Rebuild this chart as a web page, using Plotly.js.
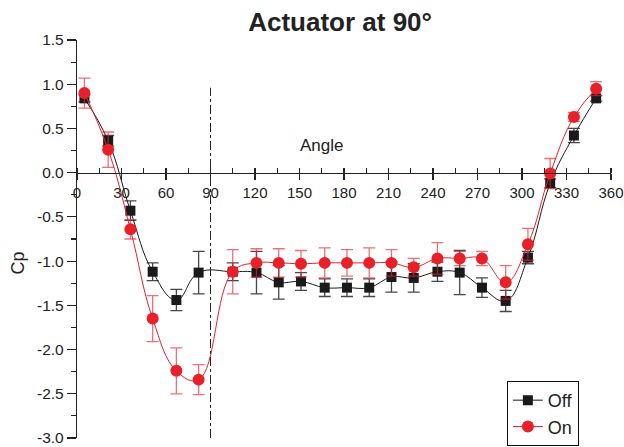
<!DOCTYPE html>
<html>
<head>
<meta charset="utf-8">
<script src="https://cdn.plot.ly/plotly-3.0.1.min.js"></script>
<style>html,body{margin:0;padding:0;background:#fff;}#chart{width:624px;height:447px;}</style>
</head>
<body>
<div id="chart"></div>
<script>
var angles = [5, 21, 36, 51, 67, 82, 105, 121, 136, 151, 167, 182, 197, 212, 227, 243, 258, 273, 289, 304, 319, 335, 350];
var offCp = [0.84, 0.36, -0.43, -1.12, -1.44, -1.13, -1.12, -1.13, -1.24, -1.23, -1.30, -1.30, -1.30, -1.18, -1.19, -1.12, -1.13, -1.30, -1.45, -0.96, -0.12, 0.42, 0.84];
var offErr = [0.04, 0.06, 0.11, 0.10, 0.12, 0.24, 0.10, 0.24, 0.19, 0.10, 0.10, 0.10, 0.10, 0.17, 0.16, 0.11, 0.25, 0.11, 0.12, 0.07, 0.05, 0.08, 0.03];
var onCp = [0.90, 0.26, -0.64, -1.65, -2.24, -2.34, -1.12, -1.02, -1.02, -1.03, -1.02, -1.02, -1.02, -1.02, -1.07, -0.97, -0.97, -0.97, -1.24, -0.81, -0.01, 0.63, 0.95];
var onErr = [0.17, 0.20, 0.11, 0.26, 0.26, 0.17, 0.25, 0.16, 0.16, 0.15, 0.17, 0.15, 0.17, 0.15, 0.10, 0.18, 0.08, 0.08, 0.19, 0.18, 0.17, 0.05, 0.08];
var xTicks = [0, 30, 60, 90, 120, 150, 180, 210, 240, 270, 300, 330, 360];
var yTicks = [1.5, 1.0, 0.5, 0.0, -0.5, -1.0, -1.5, -2.0, -2.5, -3.0];
var yTickText = ["1.5", "1.0", "0.5", "0.0", "-0.5", "-1.0", "-1.5", "-2.0", "-2.5", "-3.0"];

var FONT = "Liberation Sans, Arial, sans-serif";

var traces = [
  {
    x: angles, y: offCp, name: "Off", type: "scatter", mode: "lines+markers",
    line: {color: "#1a1a1a", width: 1, shape: "spline", smoothing: 1.2},
    marker: {symbol: "square", size: 10, color: "#1a1a1a"},
    error_y: {type: "data", array: offErr, visible: true, color: "rgba(40,40,40,0.85)", thickness: 1.3, width: 6}
  },
  {
    x: angles, y: onCp, name: "On", type: "scatter", mode: "lines+markers",
    line: {color: "#e8202a", width: 1, shape: "spline", smoothing: 1.2},
    marker: {symbol: "circle", size: 12, color: "#e8202a"},
    error_y: {type: "data", array: onErr, visible: true, color: "rgba(232,32,42,0.65)", thickness: 1.3, width: 6}
  }
];

var layout = {
  width: 624, height: 447,
  paper_bgcolor: "#fff", plot_bgcolor: "rgba(0,0,0,0)",
  margin: {l: 77, r: 13, t: 40, b: 9, pad: 0, autoexpand: false},
  font: {family: FONT, color: "#222"},
  title: {text: "<b>Actuator at 90°</b>", font: {family: FONT, size: 26, color: "#222"}, x: 0.545, xanchor: "center", xref: "container", y: 0.951, yanchor: "middle"},
  showlegend: true,
  legend: {x: 0.805, xanchor: "left", y: -0.02, yanchor: "bottom", bgcolor: "#fff", bordercolor: "#111", borderwidth: 1, font: {family: FONT, size: 18, color: "#222"}, tracegroupgap: 0},
  xaxis: {
    range: [0, 360], anchor: "free", position: 2/3, showline: true, linecolor: "#222", linewidth: 1.2,
    showgrid: false, zeroline: false, tickmode: "array", tickvals: xTicks, ticktext: xTicks.map(String),
    ticks: "outside", ticklen: 6, tickcolor: "#222", tickwidth: 1.2,
    tickfont: {family: FONT, size: 15, color: "#222"},
    minor: {dtick: 15, tick0: 0, ticks: "inside", ticklen: 5, tickcolor: "#222", tickwidth: 1.2, showgrid: false}
  },
  yaxis: {
    range: [-3.0, 1.5], showline: true, linecolor: "#222", linewidth: 1.2,
    showgrid: false, zeroline: false, tickmode: "array", tickvals: yTicks, ticktext: yTickText,
    ticks: "outside", ticklen: 9, tickcolor: "#222", tickwidth: 1.2,
    tickfont: {family: FONT, size: 15.5, color: "#222"},
    minor: {dtick: 0.25, tick0: 0, ticks: "outside", ticklen: 5, tickcolor: "#222", tickwidth: 1.2, showgrid: false}
  },
  shapes: [
    {type: "line", xref: "x", yref: "y", x0: 90, x1: 90, y0: -3.0, y1: 0.96, line: {color: "#222", width: 1, dash: "dashdot"}}
  ],
  annotations: [
    {text: "Angle", xref: "x", yref: "y", x: 165, y: 0.31, showarrow: false, font: {family: FONT, size: 17, color: "#222"}},
    {text: "Cp", xref: "paper", yref: "paper", x: -0.111, xanchor: "center", y: 0.44, yanchor: "middle", showarrow: false, textangle: -90, font: {family: FONT, size: 18, color: "#222"}}
  ]
};

Plotly.newPlot("chart", traces, layout, {staticPlot: true, displayModeBar: false});
</script>
</body>
</html>
